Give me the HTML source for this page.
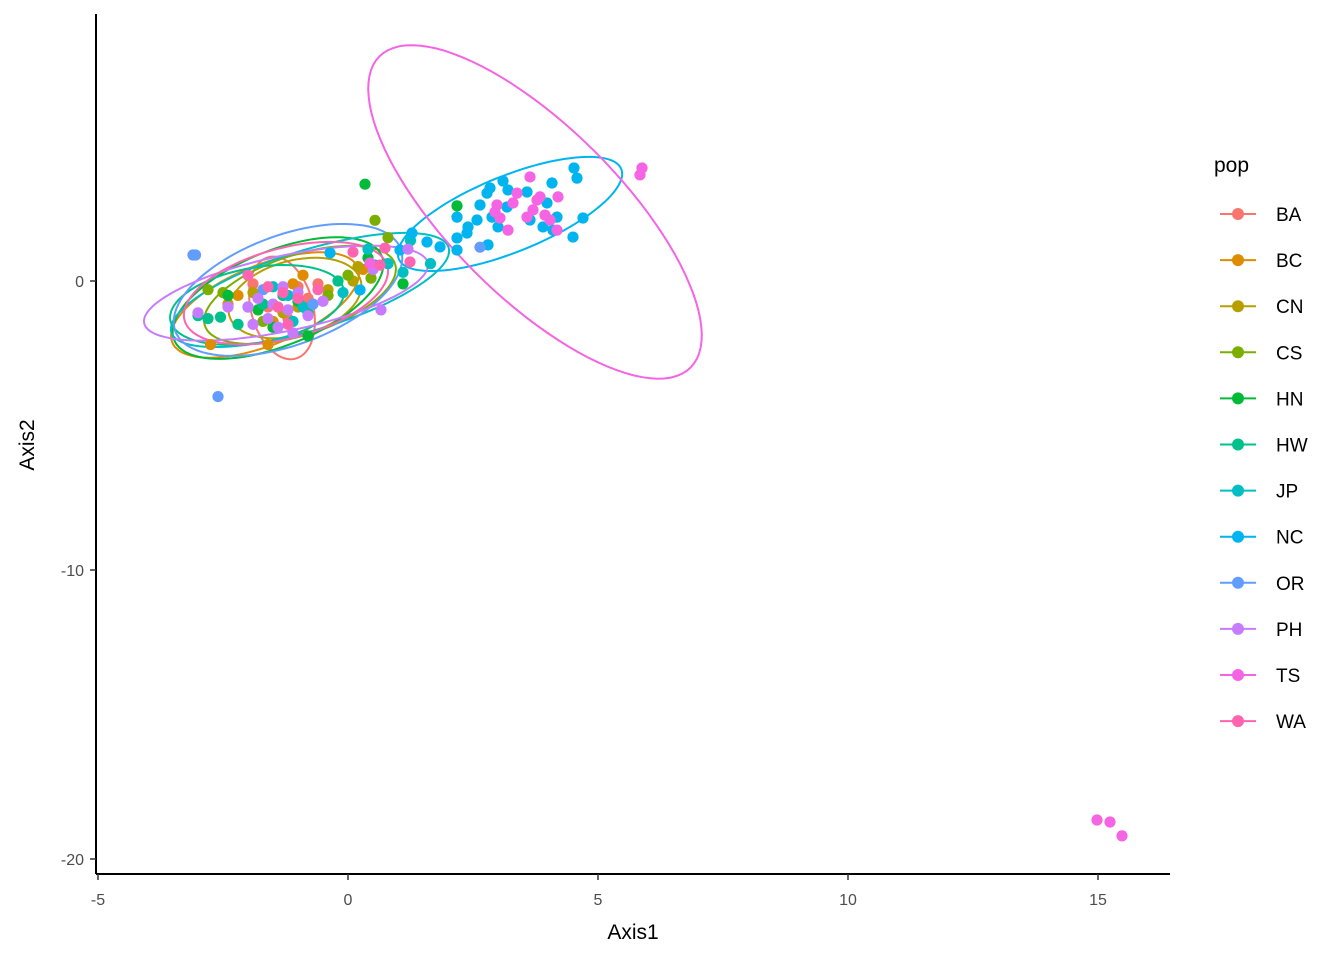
<!DOCTYPE html>
<html><head><meta charset="utf-8"><style>
body{margin:0;background:#fff;}
svg{display:block;font-family:"Liberation Sans",Arial,sans-serif;}
</style></head><body>
<svg id="chart" width="1344" height="960">
<g id="ell"></g>
<g id="pts"></g>
<g id="axes"></g>
<g id="legend"></g>
</svg>
<script>
const pops=["BA","BC","CN","CS","HN","HW","JP","NC","OR","PH","TS","WA"];
const colors=["#F8766D","#DE8C00","#B79F00","#7CAE00","#00BA38","#00C08B","#00BFC4","#00B4F0","#619CFF","#C77CFF","#F564E3","#FF64B0"];
const xTicks=[-5,0,5,10,15];
const yTicks=[0,-10,-20];
const ptsBA=[[-1.3,-0.5],[-1.0,-0.2],[-1.6,-0.9],[-0.8,-0.6],[-1.2,-1.3],[-1.9,-0.1],[-0.6,-0.1]];
const ptsBC=[[-2.75,-2.2],[-1.6,-2.2],[-1.1,-0.1],[-0.9,0.2],[-2.2,-0.5],[0.3,0.4],[-1.5,-1.4]];
const ptsCN=[[-1.9,-0.4],[-1.3,-1.1],[-0.4,-0.3],[0.2,0.5],[-2.4,-0.8],[-1.0,-0.9],[0.1,0.0]];
const ptsCS=[[0.54,2.1],[0.8,1.5],[-2.5,-0.4],[-1.7,-1.4],[0.0,0.2],[-2.8,-0.3],[-0.4,-0.5],[0.46,0.1]];
const ptsHN=[[0.34,3.35],[2.18,2.6],[-1.8,-1.0],[-2.4,-0.5],[-1.0,-0.7],[-0.8,-1.9],[1.1,-0.1],[-1.5,-1.6],[0.4,0.8]];
const ptsHW=[[-2.8,-1.3],[-2.55,-1.25],[-3.0,-1.2],[-2.2,-1.5],[-1.7,-0.8],[-1.3,-0.5],[-0.2,0.0],[-0.8,-1.1],[-2.0,-0.9]];
const ptsJP=[[-1.2,-0.5],[-0.9,-0.9],[-1.5,-0.2],[-0.1,-0.4],[0.8,0.6],[1.25,1.4],[1.65,0.6],[1.1,0.3],[0.4,1.1],[-1.1,-1.4]];
const ptsNC=[[4.52,3.91],[4.58,3.56],[4.08,3.39],[3.10,3.46],[3.58,3.08],[2.84,3.22],[3.20,3.15],[2.64,2.63],[2.18,2.21],[2.58,2.11],[2.88,2.21],[3.00,1.87],[2.40,1.87],[2.38,1.66],[2.18,1.49],[2.18,1.07],[2.80,1.25],[3.64,2.11],[3.90,1.87],[4.10,1.76],[4.18,2.21],[4.70,2.18],[4.50,1.52],[3.98,2.70],[3.18,2.56],[1.58,1.35],[1.84,1.18],[1.28,1.66],[2.78,3.04],[-0.36,0.97],[1.04,1.07],[0.54,0.55],[0.24,-0.31]];
const ptsOR=[[-3.1,0.9],[-3.05,0.9],[-2.6,-4.0],[2.64,1.17],[-1.7,-0.3],[-0.7,-0.8]];
const ptsPH=[[-1.8,-0.6],[-1.5,-0.8],[-1.2,-1.0],[-1.6,-1.3],[-1.0,-0.4],[-2.0,-0.9],[-1.3,-0.2],[-0.8,-1.2],[-1.9,-1.5],[-1.4,-1.6],[-2.4,-0.9],[-0.5,-0.7],[0.66,-1.0],[0.5,0.4],[1.2,1.1],[-3.0,-1.1],[-1.1,-1.8]];
const ptsTS=[[3.64,3.60],[3.38,3.04],[3.30,2.70],[2.98,2.63],[2.94,2.39],[3.04,2.18],[3.78,2.80],[3.84,2.91],[3.70,2.46],[3.58,2.21],[3.94,2.28],[4.04,2.11],[4.18,1.76],[3.20,1.76],[4.20,2.91],[5.88,3.91],[5.84,3.67],[14.98,-18.65],[15.24,-18.72],[15.48,-19.2],[0.44,0.62]];
const ptsWA=[[0.64,0.55],[1.24,0.66],[0.74,1.14],[-1.3,-0.4],[-1.0,-0.6],[-1.6,-0.2],[-0.6,-0.3],[-2.0,0.2],[-1.4,-0.9],[0.1,1.0],[-1.2,-1.5]];
const allPts=[ptsBA,ptsBC,ptsCN,ptsCS,ptsHN,ptsHW,ptsJP,ptsNC,ptsOR,ptsPH,ptsTS,ptsWA];
const ellCx=[-1.32,-1.66,-1.06,-0.96,-1.4,-1.82,-0.76,3.24,-1.2,-1.24,3.74,-1.24];
const ellCy=[-0.93,-0.83,-0.59,-0.48,-0.59,-0.83,-0.31,2.32,-0.31,-0.42,2.39,-0.42];
const ellA=[1.05,2.0,1.36,2.0,2.24,1.76,2.9,2.4,2.4,2.9,4.4,2.1];
const ellB=[0.62,0.8,0.75,0.8,0.95,0.75,0.8,0.76,1.1,0.75,1.7,0.9];
const ellAng=[75,-22,-15,-18,-22,-10,-17,-22,-20,-12,45,-15];
const NS="http://www.w3.org/2000/svg";
const X0=96,X1=1170,Y0=14,Y1=874;
const sx=v=>348+v*50;
const sy=v=>281-v*28.9;
function mk(t,a,p){const e=document.createElementNS(NS,t);for(const k in a)e.setAttribute(k,a[k]);p.appendChild(e);return e;}
const gE=document.getElementById('ell'),gP=document.getElementById('pts'),gA=document.getElementById('axes'),gL=document.getElementById('legend');
for(let i=0;i<pops.length;i++){
  const cx=sx(ellCx[i]),cy=sy(ellCy[i]),a=ellA[i]*50,b=ellB[i]*50,th=ellAng[i]*Math.PI/180;
  let d="";
  for(let k=0;k<=100;k++){const t=k/100*2*Math.PI;const ux=a*Math.cos(t),uy=b*Math.sin(t);
    const px=cx+ux*Math.cos(th)-uy*Math.sin(th),py=cy+ux*Math.sin(th)+uy*Math.cos(th);
    d+=(k?"L":"M")+px.toFixed(1)+","+py.toFixed(1);}
  const el=mk('path',{d:d,fill:'none',stroke:colors[i],'stroke-width':2},gE);
  
  
}
for(let i=0;i<pops.length;i++){
  allPts[i].forEach(p=>{
    const c=mk('circle',{cx:sx(p[0]),cy:sy(p[1]),r:5.6,fill:colors[i]},gP);
    
    
  });
}
let l=mk('line',{x1:X0,y1:Y0,x2:X0,y2:Y1,stroke:'#000','stroke-width':2},gA);


l=mk('line',{x1:X0,y1:Y1,x2:X1,y2:Y1,stroke:'#000','stroke-width':2},gA);


xTicks.forEach(v=>{
  mk('line',{x1:sx(v),x2:sx(v),y1:Y1,y2:Y1+6,stroke:'#333','stroke-width':1.5},gA);
  const t=mk('text',{x:sx(v),y:905,'text-anchor':'middle','font-size':16,fill:'#4d4d4d'},gA);t.textContent=v;
  
  
});
yTicks.forEach(v=>{
  mk('line',{x1:X0-6,x2:X0,y1:sy(v),y2:sy(v),stroke:'#333','stroke-width':1.5},gA);
  const t=mk('text',{x:84,y:sy(v)+6,'text-anchor':'end','font-size':16,fill:'#4d4d4d'},gA);t.textContent=v;
  
  
});
let t=mk('text',{x:633,y:939,'text-anchor':'middle','font-size':21,fill:'#000'},gA);t.textContent="Axis1";


t=mk('text',{x:0,y:0,'text-anchor':'middle','font-size':21,fill:'#000',transform:'translate(34,445) rotate(-90)'},gA);t.textContent="Axis2";


t=mk('text',{x:1214,y:172,'font-size':21,fill:'#000'},gL);t.textContent="pop";


pops.forEach((p,i)=>{
  const y=214+i*46.1;
  const g=mk('g',{},gL);
  
  
  mk('line',{x1:1220,x2:1256,y1:y,y2:y,stroke:colors[i],'stroke-width':2},g);
  mk('circle',{cx:1238,cy:y,r:6,fill:colors[i]},g);
  const tt=mk('text',{x:1276,y:y+7,'font-size':19,fill:'#000'},g);tt.textContent=p;
});
</script>
</body></html>
